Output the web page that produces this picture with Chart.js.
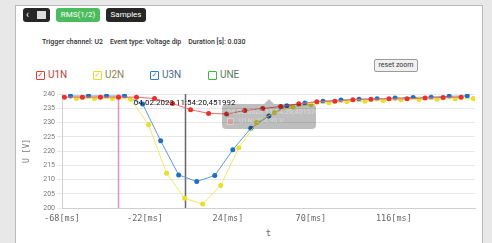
<!DOCTYPE html>
<html>
<head>
<meta charset="utf-8">
<script src="https://cdn.jsdelivr.net/npm/chart.js@4"></script>
<style>
body{margin:0;background:#e8e8e8;width:492px;height:243px;overflow:hidden;font-family:Roboto,sans-serif;position:relative;}
#panel{position:absolute;left:15px;top:5px;width:466px;height:237px;background:#fff;border:1px solid #b8b8b8;}
.btn{position:absolute;top:8px;height:14px;border-radius:3px;color:#fff;font-size:8px;line-height:14px;text-align:center;}
#info{position:absolute;left:42px;top:38px;font-size:7px;font-weight:500;color:#333;white-space:pre;}
.leg{position:absolute;top:69px;font-size:10px;line-height:12px;}
.leg .box{position:absolute;left:0;top:2px;width:7px;height:7px;border:1px solid;border-radius:1px;font-size:7px;line-height:7px;text-align:center;font-family:"DejaVu Sans";}
.leg .txt{position:absolute;left:12px;top:0;}
#reset{position:absolute;left:374px;top:59px;width:42px;height:11px;background:#f0f0f0;border:1px solid #9a9a9a;border-radius:2px;font-size:7px;line-height:11px;text-align:center;color:#333;}
#wrap{position:absolute;left:15px;top:85px;width:467px;height:158px;}
</style>
</head>
<body>
<div id="panel"></div>
<div class="btn" style="left:23px;width:27px;background:#262626;">
  <span style="position:absolute;left:3px;top:0;font-size:10px;">&lsaquo;</span>
  <span style="position:absolute;left:14px;top:3px;width:9px;height:8px;background:#ddd;"></span>
</div>
<div class="btn" style="left:56px;width:44px;background:#4cbb5e;">RMS(1/2)</div>
<div class="btn" style="left:106px;width:40px;background:#262626;">Samples</div>
<div id="info">Trigger channel: U2    Event type: Voltage dip    Duration [s]: 0.030</div>
<div class="leg" style="left:36px;"><span class="box" style="border-color:#e53935;color:#e53935;">&#10003;</span><span class="txt" style="color:#b84040;">U1N</span></div>
<div class="leg" style="left:93px;"><span class="box" style="border-color:#e6dc2a;color:#d8cc20;">&#10003;</span><span class="txt" style="color:#8a8450;">U2N</span></div>
<div class="leg" style="left:150px;"><span class="box" style="border-color:#2f7cc9;color:#2f7cc9;">&#10003;</span><span class="txt" style="color:#4a6a8c;">U3N</span></div>
<div class="leg" style="left:208px;"><span class="box" style="border-color:#3cb83c;"></span><span class="txt" style="color:#5a7a5a;">UNE</span></div>
<div id="reset">reset zoom</div>
<div id="wrap"><canvas id="myChart"></canvas></div>
<script>
// sample times [ms] and RMS values [V] per phase
const tU1N = [-66.7, -56.7, -46.7, -36.7, -26.7, -16.7, -6.7, 3.3, 13.3, 23.3, 33.3, 43.3, 53.3, 63.3, 73.3, 83.3, 93.3, 103.3, 113.3, 123.3, 133.3, 143.3, 153.3];
const vU1N = [238.9, 238.9, 238.9, 238.9, 238.9, 238.4, 236.7, 234.5, 233.2, 233.0, 234.2, 234.9, 235.6, 236.6, 237.3, 237.5, 238.0, 238.2, 238.3, 238.3, 238.6, 238.8, 238.9];
const tU3N = [-63.3, -53.3, -43.3, -33.3, -23.3, -13.3, -3.3, 6.7, 16.7, 26.7, 36.7, 46.7, 56.7, 66.7, 76.7, 86.7, 96.7, 106.7, 116.7, 126.7, 136.7, 146.7, 156.7];
const vU3N = [239.3, 239.3, 239.3, 239.3, 236.5, 223.6, 211.6, 209.3, 211.4, 220.4, 228.0, 232.3, 235.9, 236.8, 237.5, 237.9, 238.2, 238.3, 238.6, 238.8, 238.9, 239.2, 239.3];
const tU2N = [-60, -50, -40, -30, -20, -10, 0, 10, 20, 30, 40, 50, 60, 70, 80, 90, 100, 110, 120, 130, 140, 150, 160];
const vU2N = [238.4, 238.4, 238.4, 238.2, 229.2, 212.2, 203.4, 201.4, 207.9, 221.1, 230.0, 233.5, 235.4, 236.3, 236.9, 237.3, 237.5, 237.7, 238.0, 238.1, 238.2, 238.3, 238.4];
const xTicks = [-68, -22, 24, 70, 116];
const triggerTime = -36.7;
const cursorTime = 0;
const cursorLabel = '04.02.2023 11:54:20,451992';

const pts = (t, v) => t.map((x, i) => ({x: x, y: v[i]}));

const overlay = {
    id: 'overlay',
    beforeDatasetsDraw(chart) {
        const ctx = chart.ctx, a = chart.chartArea, xs = chart.scales.x;
        ctx.save();
        ctx.lineWidth = 1.5;
        ctx.strokeStyle = '#ec8cbc';
        let px = Math.round(xs.getPixelForValue(triggerTime)) + 0.5;
        ctx.beginPath(); ctx.moveTo(px, a.top); ctx.lineTo(px, a.bottom); ctx.stroke();
        ctx.strokeStyle = '#666';
        px = Math.round(xs.getPixelForValue(cursorTime)) + 0.5;
        ctx.beginPath(); ctx.moveTo(px, a.top); ctx.lineTo(px, a.bottom); ctx.stroke();
        ctx.restore();
    },
    afterDatasetsDraw(chart) {
        const ctx = chart.ctx, a = chart.chartArea, xs = chart.scales.x;
        ctx.save();
        ctx.font = '8px Roboto';
        ctx.fillStyle = '#111';
        ctx.textAlign = 'center';
        ctx.textBaseline = 'middle';
        ctx.fillText(cursorLabel, xs.getPixelForValue(cursorTime), a.top + 9);
        // fading tooltip
        ctx.globalAlpha = 0.3;
        ctx.fillStyle = 'rgba(0,0,0,0.85)';
        const bx = 222 - 15, by = 104 - 85, bw = 94, bh = 25, cx = 269 - 15;
        ctx.beginPath();
        ctx.roundRect(bx, by, bw, bh, 4);
        ctx.moveTo(cx - 5, by); ctx.lineTo(cx, by - 5); ctx.lineTo(cx + 5, by); ctx.closePath();
        ctx.fill();
        ctx.fillStyle = '#fff';
        ctx.textAlign = 'left';
        ctx.font = 'bold 7px Roboto';
        ctx.fillText('04.02.2023 11:54:20,451574', bx + 5, by + 8);
        ctx.font = '7px Roboto';
        ctx.fillText('U1N: 234.90 V', bx + 17, by + 17.5);
        ctx.fillRect(bx + 5, by + 14, 7, 7);
        ctx.fillStyle = '#e53935';
        ctx.fillRect(bx + 6, by + 15, 5, 5);
        ctx.restore();
    }
};

const ctx = document.getElementById('myChart');
new Chart(ctx, {
    type: 'line',
    data: {
        datasets: [
            {label: 'U1N', data: pts(tU1N, vU1N), borderColor: '#f06a6a', backgroundColor: '#e8302f', pointBackgroundColor: '#e8302f'},
            {label: 'U2N', data: pts(tU2N, vU2N), borderColor: '#f3e860', backgroundColor: '#e8de2c', pointBackgroundColor: '#e8de2c'},
            {label: 'U3N', data: pts(tU3N, vU3N), borderColor: '#5d9ad8', backgroundColor: '#1e6ec2', pointBackgroundColor: '#1e6ec2'},
            {label: 'UNE', data: [], borderColor: '#3cb83c', hidden: true}
        ]
    },
    options: {
        responsive: true,
        maintainAspectRatio: false,
        animation: false,
        layout: {padding: {top: 9, right: 7, left: 0, bottom: 0}},
        elements: {
            line: {borderWidth: 1, tension: 0},
            point: {radius: 2.5, borderWidth: 0}
        },
        plugins: {legend: {display: false}, tooltip: {enabled: false}},
        scales: {
            x: {
                type: 'linear',
                min: -68,
                max: 161,
                afterBuildTicks: s => { s.ticks = xTicks.map(v => ({value: v})); },
                afterFit: s => { s.height = 35; },
                ticks: {
                    autoSkip: false, maxRotation: 0, padding: 6,
                    color: '#666', font: {family: 'DejaVu Sans Mono', size: 8.5},
                    callback: v => v + '[ms]'
                },
                grid: {drawOnChartArea: false, drawTicks: false},
                border: {color: '#d0d0d0'},
                title: {display: true, text: 't', color: '#666', font: {family: 'DejaVu Sans Mono', size: 9}, padding: {top: 0, bottom: 4}}
            },
            y: {
                min: 200,
                max: 240,
                afterFit: s => { s.width = 47; },
                ticks: {stepSize: 5, padding: 2, color: '#777', font: {family: 'Roboto', size: 7}},
                grid: {color: '#e8e8e8', tickLength: 5},
                border: {color: '#d0d0d0'},
                title: {display: true, text: 'U [V]', color: '#777', font: {family: 'DejaVu Sans Mono', size: 8}, padding: {top: 7, bottom: 0}}
            }
        }
    },
    plugins: [overlay]
});
</script>
</body>
</html>
